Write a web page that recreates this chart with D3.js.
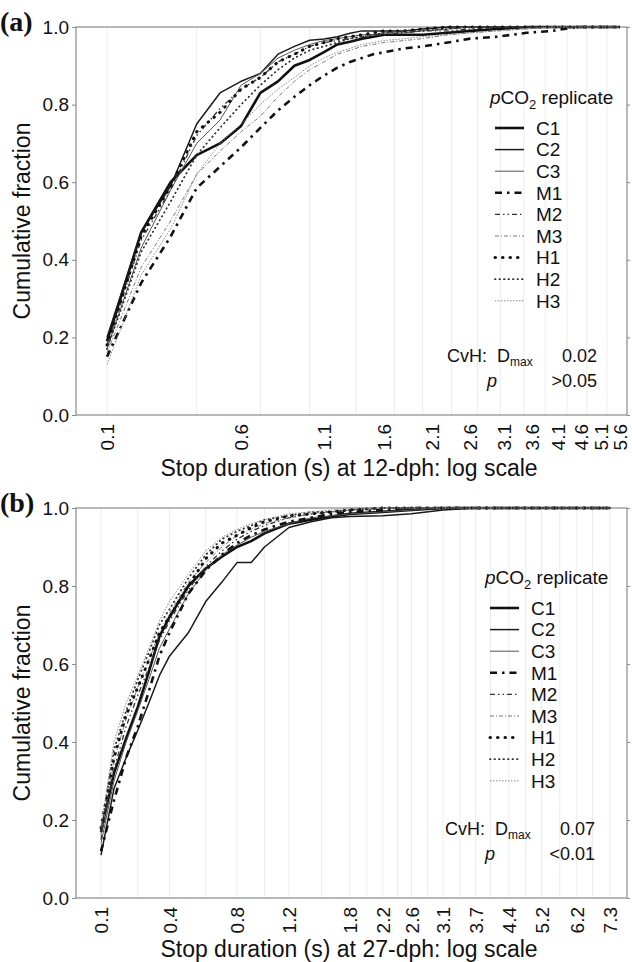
<!DOCTYPE html>
<html><head><meta charset="utf-8">
<script src="https://cdn.jsdelivr.net/npm/d3@7"></script>
<style>
body{margin:0;background:#fff}
svg text{font-family:"Liberation Sans",Arial,sans-serif;fill:#111}
</style>
</head><body>
<svg id="chart" width="632" height="962"></svg>
<script>
// ---------- data ----------
const replicates = ["C1","C2","C3","M1","M2","M3","H1","H2","H3"];
const yTicks = [0,0.2,0.4,0.6,0.8,1.0];
const xTicksA = [0.1,0.6,1.1,1.6,2.1,2.6,3.1,3.6,4.1,4.6,5.1,5.6];
const xTicksB = [0.1,0.4,0.8,1.2,1.8,2.2,2.6,3.1,3.7,4.4,5.2,6.2,7.3];
const gridA = [0.1,0.4,0.7,1.0,1.35,1.7,2.0,2.35,2.7,3.05,3.45,3.85,4.3,4.75,5.25];
const gridB = [0.1,0.25,0.4,0.6,0.8,1.0,1.2,1.5,1.8,2.0,2.2,2.4,2.6,2.85,3.1,3.4,3.7,4.0,4.4,4.8,5.2,5.7,6.2,6.7,7.3];

// panel (a): 12-dph stop durations (s)
const durA = [0.1,0.2,0.3,0.4,0.5,0.6,0.7,0.8,0.9,1.0,1.1,1.2,1.3,1.4,1.5,1.6,1.8,2.0,2.3,2.6,3.0,3.5,4.0,4.5,5.0,5.6];
const aC1 = [0.19,0.47,0.60,0.67,0.70,0.745,0.83,0.86,0.90,0.915,0.935,0.955,0.962,0.97,0.975,0.98,0.98,0.98,0.985,0.99,0.995,1,1,1,1,1];
const aC2 = [0.20,0.47,0.59,0.75,0.83,0.86,0.88,0.93,0.95,0.966,0.969,0.975,0.984,0.99,0.99,0.99,0.99,0.995,1,1,1,1,1,1,1,1];
const aC3 = [0.17,0.43,0.58,0.70,0.76,0.85,0.88,0.92,0.94,0.955,0.965,0.97,0.975,0.98,0.98,0.985,0.985,0.99,0.995,1,1,1,1,1,1,1];
const aM1 = [0.15,0.34,0.46,0.585,0.64,0.69,0.74,0.785,0.82,0.85,0.875,0.895,0.91,0.92,0.93,0.935,0.945,0.95,0.96,0.97,0.975,0.985,0.99,1,1,1];
const aM2 = [0.18,0.45,0.58,0.72,0.79,0.84,0.87,0.91,0.93,0.95,0.96,0.965,0.97,0.975,0.98,0.98,0.985,0.99,0.99,0.995,1,1,1,1,1,1];
const aM3 = [0.16,0.38,0.50,0.62,0.68,0.73,0.77,0.82,0.86,0.89,0.91,0.93,0.94,0.95,0.955,0.96,0.965,0.97,0.98,0.985,0.99,0.995,1,1,1,1];
const aH1 = [0.18,0.46,0.59,0.73,0.78,0.84,0.87,0.91,0.93,0.95,0.96,0.97,0.975,0.98,0.985,0.99,0.99,0.995,1,1,1,1,1,1,1,1];
const aH2 = [0.17,0.42,0.55,0.67,0.74,0.80,0.85,0.89,0.92,0.94,0.95,0.96,0.97,0.975,0.98,0.985,0.99,0.99,0.995,1,1,1,1,1,1,1];
const aH3 = [0.13,0.36,0.48,0.62,0.70,0.75,0.80,0.84,0.87,0.90,0.92,0.935,0.945,0.955,0.96,0.965,0.97,0.975,0.98,0.985,0.99,0.995,1,1,1,1];

// panel (b): 27-dph stop durations (s)
const durB = [0.1,0.15,0.2,0.25,0.3,0.35,0.4,0.5,0.6,0.7,0.8,0.9,1.0,1.2,1.4,1.6,1.8,2.2,2.6,3.1,3.7,4.4,5.2,6.2,7.3];
const bC1 = [0.17,0.32,0.41,0.49,0.58,0.67,0.72,0.80,0.845,0.875,0.90,0.915,0.935,0.96,0.97,0.978,0.985,0.99,0.995,1,1,1,1,1,1];
const bC2 = [0.11,0.28,0.36,0.43,0.50,0.57,0.62,0.68,0.76,0.81,0.86,0.86,0.90,0.95,0.965,0.975,0.978,0.98,0.985,0.995,1,1,1,1,1];
const bC3 = [0.14,0.30,0.40,0.48,0.56,0.64,0.69,0.78,0.84,0.88,0.905,0.925,0.94,0.96,0.975,0.98,0.985,0.99,0.995,1,1,1,1,1,1];
const bM1 = [0.12,0.25,0.36,0.44,0.53,0.62,0.68,0.78,0.84,0.88,0.91,0.93,0.945,0.965,0.975,0.985,0.99,0.995,1,1,1,1,1,1,1];
const bM2 = [0.15,0.33,0.44,0.52,0.59,0.66,0.71,0.79,0.85,0.89,0.92,0.94,0.955,0.975,0.985,0.99,0.995,1,1,1,1,1,1,1,1];
const bM3 = [0.16,0.35,0.46,0.54,0.61,0.68,0.73,0.81,0.86,0.90,0.93,0.945,0.96,0.975,0.985,0.99,0.995,1,1,1,1,1,1,1,1];
const bH1 = [0.18,0.36,0.47,0.54,0.61,0.68,0.72,0.80,0.87,0.91,0.93,0.95,0.965,0.98,0.985,0.99,0.995,1,1,1,1,1,1,1,1];
const bH2 = [0.17,0.38,0.48,0.56,0.63,0.70,0.74,0.82,0.88,0.92,0.94,0.955,0.97,0.98,0.99,0.99,0.995,1,1,1,1,1,1,1,1];
const bH3 = [0.18,0.40,0.50,0.57,0.64,0.71,0.76,0.83,0.89,0.925,0.945,0.96,0.97,0.985,0.99,0.995,1,1,1,1,1,1,1,1,1];

const statsA = ["0.02", ">0.05"];
const statsB = ["0.07", "<0.01"];

// ---------- styles ----------
const styles = {
  C1:{w:2.6,dash:null,cap:"butt",col:"#111"},
  C2:{w:1.5,dash:null,cap:"butt",col:"#1a1a1a"},
  C3:{w:1.0,dash:null,cap:"butt",col:"#555"},
  M1:{w:2.6,dash:"7,5,2.5,5",cap:"butt",col:"#111"},
  M2:{w:1.3,dash:"5,3,1.5,3,1.5,3",cap:"butt",col:"#333"},
  M3:{w:1.0,dash:"4,2,1,2",cap:"butt",col:"#777"},
  H1:{w:3.0,dash:"0.5,7",cap:"round",col:"#111"},
  H2:{w:1.8,dash:"0.5,4",cap:"round",col:"#333"},
  H3:{w:1.0,dash:"1.5,1.5",cap:"butt",col:"#888"}
};

const svg = d3.select("#chart");

function drawPanel(o){
  const g = svg.append("g");
  const c = o.offset;
  const xs = d3.scaleLog().domain([o.dur[0]+c, o.dur[o.dur.length-1]+c]).range([o.x0, o.x1]);
  const x = v => xs(v + c);
  const y = d3.scaleLinear().domain([0,1]).range([o.bottom, o.top]);

  // grid
  g.append("g").selectAll("line").data(o.grid).join("line")
    .attr("x1", d=>x(d)).attr("x2", d=>x(d))
    .attr("y1", o.top).attr("y2", o.bottom)
    .attr("stroke","#ececec").attr("stroke-width",1);

  // frame
  g.append("rect").attr("x",o.left).attr("y",o.top)
    .attr("width",o.right-o.left).attr("height",o.bottom-o.top)
    .attr("fill","none").attr("stroke","#8a8a8a").attr("stroke-width",1.2);

  // y axis
  const ya = g.append("g").attr("transform",`translate(${o.left},0)`)
    .call(d3.axisLeft(y).tickValues(yTicks).tickFormat(d3.format(".1f")).tickSize(4).tickPadding(3));
  ya.select(".domain").remove();
  ya.selectAll("line").attr("stroke","#8a8a8a");
  ya.selectAll("text").style("font-size","19px").attr("fill","#111");
  const yr = g.append("g").attr("transform",`translate(${o.right},0)`)
    .call(d3.axisRight(y).tickValues(yTicks).tickFormat("").tickSize(3));
  yr.select(".domain").remove();
  yr.selectAll("line").attr("stroke","#8a8a8a");

  // x axis
  const xa = g.append("g").attr("transform",`translate(0,${o.bottom})`)
    .call(d3.axisBottom(xs).tickValues(o.xticks.map(t=>t+c))
      .tickFormat(v=>d3.format(".1f")(v-c)).tickSize(0));
  xa.select(".domain").remove();
  xa.selectAll("text")
    .attr("transform","rotate(-90)")
    .attr("x",-9).attr("y",0).attr("dy","0.35em")
    .attr("text-anchor","end")
    .style("font-size","19px").attr("fill","#111");

  // axis titles
  g.append("text").attr("transform",`translate(${o.ytitleX},${(o.top+o.bottom)/2}) rotate(-90)`)
    .attr("text-anchor","middle").style("font-size","23px").text("Cumulative fraction");
  g.append("text").attr("x",o.xtitleX).attr("y",o.xtitleY)
    .attr("text-anchor","middle").style("font-size","23px").text(o.xtitle);

  // panel letter
  g.append("text").attr("x",0).attr("y",o.top+4)
    .style("font-family","'Liberation Serif','Times New Roman',serif")
    .style("font-weight","bold").style("font-size","28px").text(o.letter);

  // curves
  const line = d3.line().x(d=>x(d[0])).y(d=>y(d[1]));
  replicates.forEach(name=>{
    const s = styles[name];
    const pts = o.dur.map((d,i)=>[d, o.series[name][i]]);
    g.append("path").datum(pts).attr("d",line)
      .attr("fill","none").attr("stroke",s.col).attr("stroke-width",s.w)
      .attr("stroke-dasharray",s.dash).attr("stroke-linecap",s.cap)
      .attr("stroke-linejoin","round");
  });

  // legend
  const lg = g.append("g");
  const t = lg.append("text").attr("x",o.legX).attr("y",o.legY).style("font-size","19px");
  t.append("tspan").style("font-style","italic").text("p");
  t.append("tspan").text("CO");
  t.append("tspan").attr("dy",5).style("font-size","13px").text("2");
  t.append("tspan").attr("dy",-5).text(" replicate");
  replicates.forEach((name,i)=>{
    const s = styles[name];
    const yy = o.legY + 24 + i*21.6;
    lg.append("line").attr("x1",o.legX+5).attr("x2",o.legX+34).attr("y1",yy).attr("y2",yy)
      .attr("stroke",s.col).attr("stroke-width",s.w).attr("stroke-dasharray",s.dash)
      .attr("stroke-linecap",s.cap);
    lg.append("text").attr("x",o.legX+46).attr("y",yy).attr("dy","0.36em")
      .style("font-size","19px").text(name);
  });

  // stats
  const sy = o.statY;
  g.append("text").attr("x",o.statX).attr("y",sy).style("font-size","18px").text("CvH:");
  const dm = g.append("text").attr("x",o.statX+50).attr("y",sy).style("font-size","18px");
  dm.append("tspan").text("D");
  dm.append("tspan").attr("dy",4).style("font-size","12px").text("max");
  g.append("text").attr("x",o.statX+150).attr("y",sy).attr("text-anchor","end").style("font-size","18px").text(o.stats[0]);
  g.append("text").attr("x",o.statX+40).attr("y",sy+25).style("font-size","18px").style("font-style","italic").text("p");
  g.append("text").attr("x",o.statX+150).attr("y",sy+25).attr("text-anchor","end").style("font-size","18px").text(o.stats[1]);
}

drawPanel({
  letter:"(a)", top:27, bottom:415, left:76, right:627, x0:107, x1:620, offset:0.5,
  dur:durA, grid:gridA, xticks:xTicksA,
  series:{C1:aC1,C2:aC2,C3:aC3,M1:aM1,M2:aM2,M3:aM3,H1:aH1,H2:aH2,H3:aH3},
  xtitle:"Stop duration (s) at 12-dph: log scale", xtitleX:349, xtitleY:476, ytitleX:30,
  legX:490, legY:104, statX:447, statY:362, stats:statsA
});
drawPanel({
  letter:"(b)", top:508, bottom:898, left:76, right:627, x0:101, x1:610, offset:0.75,
  dur:durB, grid:gridB, xticks:xTicksB,
  series:{C1:bC1,C2:bC2,C3:bC3,M1:bM1,M2:bM2,M3:bM3,H1:bH1,H2:bH2,H3:bH3},
  xtitle:"Stop duration (s) at 27-dph: log scale", xtitleX:349, xtitleY:957, ytitleX:30,
  legX:485, legY:584, statX:445, statY:835, stats:statsB
});
</script>
</body></html>
